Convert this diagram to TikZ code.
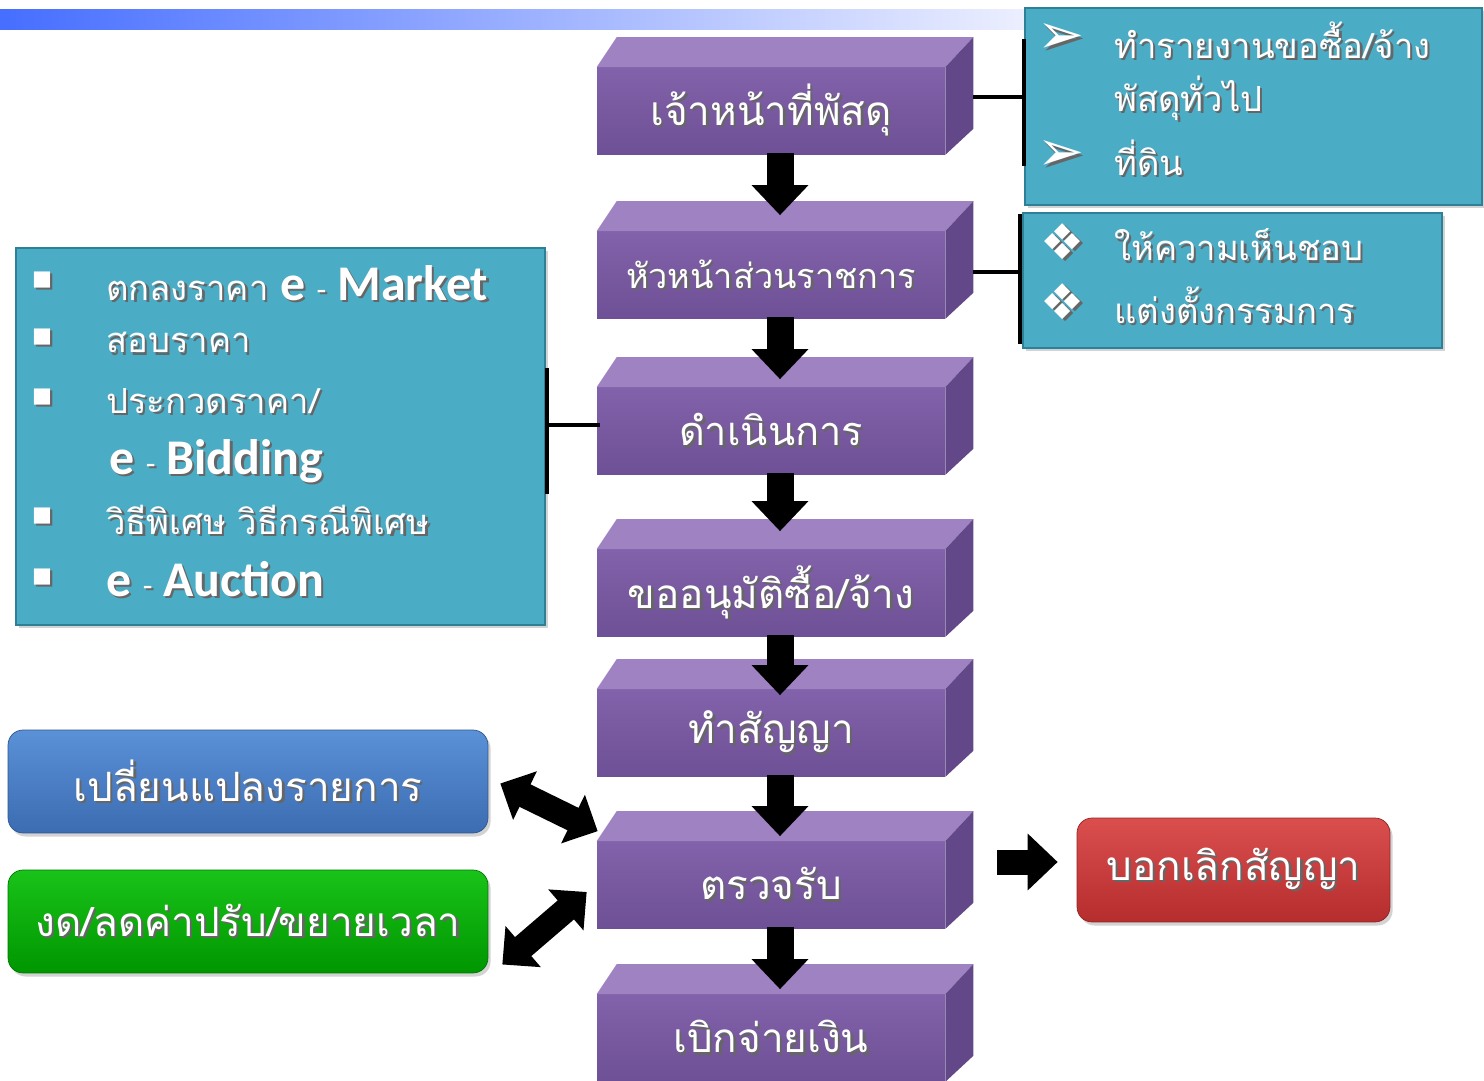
\documentclass[tikz,border=0pt]{standalone}
\usepackage{fontspec}
\newfontfamily\thaifont[Script=Thai]{Loma}
\newfontfamily\calfont{Carlito}
\newfontfamily\symfont{DejaVu Sans}
\usetikzlibrary{positioning,calc,arrows.meta,shadows}

\definecolor{stagetop}{RGB}{158,130,194}
\definecolor{stagehi}{RGB}{130,98,170}
\definecolor{stagelo}{RGB}{110,80,150}
\definecolor{stageside}{RGB}{98,72,136}
\definecolor{tealfill}{RGB}{75,172,198}
\definecolor{tealedge}{RGB}{46,128,150}
\definecolor{bluehi}{RGB}{90,145,215}
\definecolor{bluelo}{RGB}{60,108,178}
\definecolor{greenhi}{RGB}{25,195,25}
\definecolor{greenlo}{RGB}{0,150,0}
\definecolor{redhi}{RGB}{218,78,78}
\definecolor{redlo}{RGB}{182,45,45}
\definecolor{barleft}{RGB}{70,110,255}
\definecolor{barright}{RGB}{236,239,255}

% white text with a soft dark shadow
\newcommand{\shtxt}[1]{\makebox[0pt][l]{\raisebox{-1.3pt}{\hspace{1.3pt}\textcolor{black!60}{#1}}}#1}
\newcommand{\ebig}[1]{{\calfont\bfseries\fontsize{28.4}{28.4}\selectfont e {\mdseries\fontsize{18}{18}\selectfont -} #1}}

\begin{document}
\begin{tikzpicture}[x=0.02cm,y=-0.02cm,
    stage/.style={minimum width=6.96cm,minimum height=1.74cm,inner sep=0pt,
      top color=stagehi,bottom color=stagelo,text=white},
    flow/.style={line width=0.54cm,-{Triangle[width=1.1cm,length=0.6cm]}},
    twoway/.style={line width=0.5cm,{Triangle[width=1.05cm,length=0.55cm]}-{Triangle[width=1.05cm,length=0.55cm]}},
    link/.style={line width=0.08cm,black},
    notebox/.style={fill=tealfill,draw=tealedge,line width=0.05cm,inner sep=0pt,
      drop shadow={shadow xshift=1.5pt,shadow yshift=-1.5pt,opacity=.35}},
    pill/.style={rounded corners=0.3cm,inner sep=0pt,text=white,
      font=\thaifont\fontsize{23}{23}\selectfont,
      drop shadow={shadow xshift=1.5pt,shadow yshift=-2pt,opacity=.35}},
    notetxt/.style={anchor=west,inner sep=0pt,text=white,font=\thaifont\fontsize{19.7}{19.7}\selectfont},
    mark/.style={inner sep=0pt,text=white,font=\symfont\fontsize{#1}{#1}\selectfont}]
\useasboundingbox (0,0) rectangle (1484,1081);

% title bar
\fill[left color=barleft,right color=barright] (0,10) rectangle (1025,30);

% purple 3d stages
\foreach \nm/\yy/\fs/\txt in {staff/111/23/{เจ้าหน้าที่พัสดุ},head/275/19.5/{หัวหน้าส่วนราชการ},
    proc/431/22.6/{ดำเนินการ},approve/593/23/{ขออนุมัติซื้อ/จ้าง},contract/733/23/{ทำสัญญา},
    check/885/23/{ตรวจรับ},pay/1038/23/{เบิกจ่ายเงิน}}{
  \node[stage,font=\thaifont\fontsize{\fs}{\fs}\selectfont] (\nm) at (771,\yy) {\shtxt{\txt}};
  \fill[stagetop] (\nm.north west) -- ++(20,-30) -- ($(\nm.north east)+(28,-30)$) -- (\nm.north east) -- cycle;
  \fill[stageside] (\nm.north east) -- ++(28,-30) -- ($(\nm.south east)+(28,-26)$) -- (\nm.south east) -- cycle;
}

% flow arrows
\foreach \a/\b/\dy in {staff/head/-16,head/proc/-8,proc/approve/-18,approve/contract/6,contract/check/-5,check/pay/-5}
  \draw[flow] ($(\a.south)+(9,-2)$) -- ($(\b.north)+(9,\dy)$);

% note boxes on the right
\node[notebox,minimum width=9.14cm,minimum height=3.94cm] (staffnote) at (1253.5,106.5) {};
\node[mark=32] (sn1) at (1061,40) {\shtxt{➢}};
\node[notetxt] (sn1t) at (1114,41) {\shtxt{ทำรายงานขอซื้อ/จ้าง}};
\node[notetxt] (sn2t) at (1114,99) {\shtxt{พัสดุทั่วไป}};
\node[mark=32] (sn2) at (1061,157) {\shtxt{➢}};
\node[notetxt] (sn3t) at (1114,159) {\shtxt{ที่ดิน}};

\node[notebox,minimum width=8.38cm,minimum height=2.70cm] (headnote) at (1232.5,280.5) {};
\node[mark=28] (hn1) at (1063,243) {\shtxt{❖}};
\node[notetxt] (hn1t) at (1114,246) {\shtxt{ให้ความเห็นชอบ}};
\node[mark=28] (hn2) at (1063,303) {\shtxt{❖}};
\node[notetxt] (hn2t) at (1114,306) {\shtxt{แต่งตั้งกรรมการ}};

% methods box on the left
\node[notebox,minimum width=10.58cm,minimum height=7.54cm] (methods) at (280.5,436.5) {};
\foreach \yy [count=\i] in {281,338,398,517,578}
  \node[mark=12] (m\i) at (42,\yy) {\shtxt{■}};
\node[notetxt] (m1t) at (106,284) {\shtxt{ตกลงราคา} \shtxt{\ebig{Market}}};
\node[notetxt] (m2t) at (106,344) {\shtxt{สอบราคา}};
\node[notetxt] (m3t) at (106,402) {\shtxt{ประกวดราคา/}};
\node[notetxt] (m4t) at (109,462) {\shtxt{\ebig{Bidding}}};
\node[notetxt] (m5t) at (106,521) {\shtxt{วิธีพิเศษ วิธีกรณีพิเศษ}};
\node[notetxt] (m6t) at (106,580) {\shtxt{\ebig{Auction}}};

% brackets
\coordinate (staffside) at ($(staff.east)+(28,-14)$);
\draw[link] (staffside) -- (staffside -| staffnote.west);
\draw[link] ($(staffnote.north west)+(0,32)$) -- ($(staffnote.south west)+(0,-40)$);
\coordinate (headside) at ($(head.east)+(28,-3)$);
\draw[link] (headside) -- ($(headside -| headnote.west)+(-2,0)$);
\draw[link] ($(headnote.north west)+(-2,2)$) -- ($(headnote.south west)+(-2,-5)$);
\draw[link] ($(methods.east)+(1,-69)$) -- ($(methods.east)+(1,57)$);
\draw[link] ($(proc.west)+(3,-6)$) -- ($(proc.west -| methods.east)+(3,-6)$);

% side outcomes
\node[pill,top color=bluehi,bottom color=bluelo,draw=bluelo!80!black,
  minimum width=9.6cm,minimum height=2.06cm] (change) at (248,781.5) {\shtxt{เปลี่ยนแปลงรายการ}};
\node[pill,top color=greenhi,bottom color=greenlo,draw=greenlo!80!black,
  minimum width=9.6cm,minimum height=2.06cm] (penalty) at (248,921.5) {\shtxt{งด/ลดค่าปรับ/ขยายเวลา}};
\node[pill,top color=redhi,bottom color=redlo,draw=redlo!80!black,
  minimum width=6.26cm,minimum height=2.08cm] (cancel) at (1233.5,870) {\shtxt{บอกเลิกสัญญา}};

\draw[twoway] ($(change.east)+(12,2)$) -- ($(check.north west)+(1,-10)$);
\draw[twoway] ($(penalty.east)+(14,43)$) -- ($(check.west)+(-10,7)$);
\draw[flow,line width=0.5cm] ($(check.east)+(52,-23)$) -- ($(cancel.west)+(-19,-8)$);
\end{tikzpicture}
\end{document}
